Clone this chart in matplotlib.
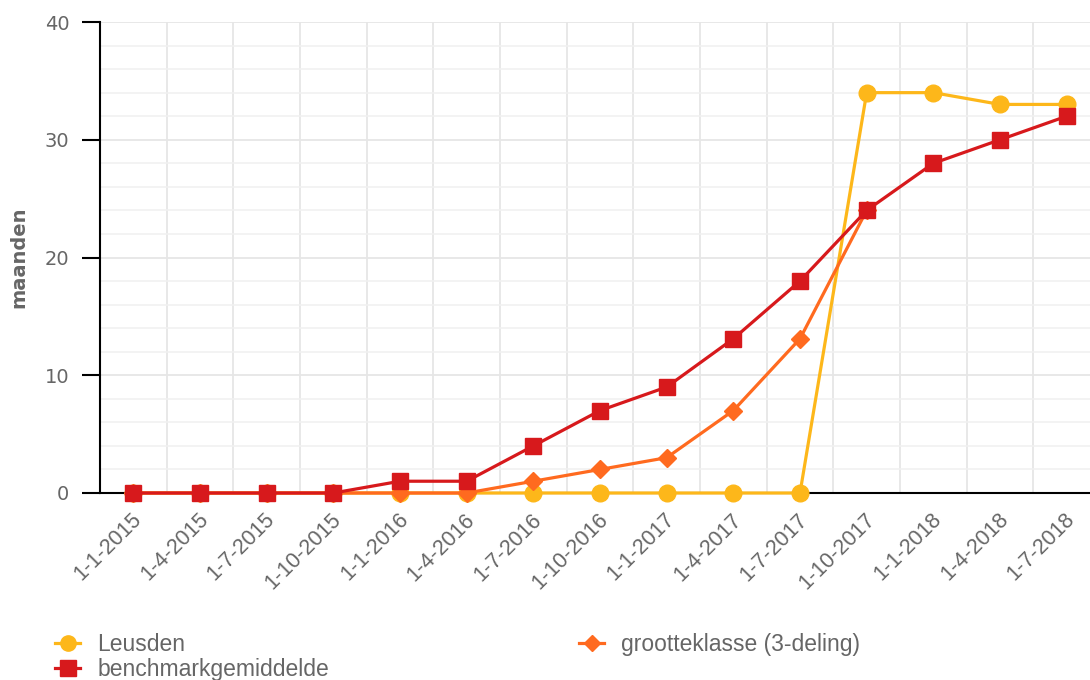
import numpy as np
import matplotlib
matplotlib.use("Agg")
import matplotlib.pyplot as plt
import matplotlib.transforms as mtransforms
from matplotlib.lines import Line2D

# ---- data ----
dates = ["1-1-2015", "1-4-2015", "1-7-2015", "1-10-2015", "1-1-2016", "1-4-2016",
         "1-7-2016", "1-10-2016", "1-1-2017", "1-4-2017", "1-7-2017", "1-10-2017",
         "1-1-2018", "1-4-2018", "1-7-2018"]
leusden = [0, 0, 0, 0, 0, 0, 0, 0, 0, 0, 0, 34, 34, 33, 33]
grootteklasse = [0, 0, 0, 0, 0, 0, 1, 2, 3, 7, 13.1, 24]
benchmark = [0, 0, 0, 0, 1, 1, 4, 7, 9, 13.1, 18, 24, 28, 30, 32]

C_LEUS = "#fdb71a"
C_GROOT = "#ff6a1f"
C_BENCH = "#d7191c"
GREY = "#666666"

fig = plt.figure(figsize=(10.9, 6.8), dpi=100)
ax = fig.add_axes([100 / 1090, 1 - 493 / 680, 1000 / 1090, 471 / 680])

x = np.arange(len(dates))
ax.plot(x[:len(leusden)], leusden, color=C_LEUS, lw=2.3, marker="o", ms=12, zorder=3,
        clip_on=False)
ax.plot(x[:len(grootteklasse)], grootteklasse, color=C_GROOT, lw=2.3, marker="D", ms=9,
        zorder=4, clip_on=False)
ax.plot(x[:len(benchmark)], benchmark, color=C_BENCH, lw=2.3, marker="s", ms=12, zorder=5,
        clip_on=False)

ax.set_xlim(-0.5, len(dates) - 0.5)
ax.set_ylim(0, 40)

# grid: vertical at category boundaries, horizontal major + minor
for b in np.arange(-0.5, len(dates), 1.0):
    ax.axvline(b, color="#e6e6e6", lw=1.3, zorder=0)
ax.set_yticks([0, 10, 20, 30, 40])
ax.set_yticks(np.arange(0, 41, 2), minor=True)
ax.grid(axis="y", which="major", color="#e6e6e6", lw=1.3, zorder=0)
ax.grid(axis="y", which="minor", color="#f0f0f0", lw=1.1, zorder=0)
ax.set_axisbelow(True)

ax.set_xticks(x)
ax.set_xticklabels(dates, rotation=45, ha="right", va="center", rotation_mode="anchor",
                   fontsize=15.5, color=GREY, family="Liberation Sans")
ax.tick_params(axis="x", length=0, pad=17)
shift = mtransforms.ScaledTranslation(5 / 100, 0, fig.dpi_scale_trans)
for lab in ax.get_xticklabels():
    lab.set_transform(lab.get_transform() + shift)
ax.tick_params(axis="y", which="major", length=13, width=1.5, color="black",
               labelsize=14, labelcolor=GREY, pad=9)
ax.tick_params(axis="y", which="minor", length=0)

for s in ["top", "right"]:
    ax.spines[s].set_visible(False)
ax.spines["left"].set_linewidth(1.5)
ax.spines["bottom"].set_linewidth(1.5)
ax.spines["bottom"].set_zorder(2)

ax.set_ylabel("maanden", fontsize=14, fontweight="bold", color=GREY, labelpad=12)

handles = [
    Line2D([], [], color=C_LEUS, lw=2.3, marker="o", ms=11),
    Line2D([], [], color=C_BENCH, lw=2.3, marker="s", ms=11),
    Line2D([], [], color=C_GROOT, lw=2.3, marker="D", ms=8),
]
labels = ["Leusden", "benchmarkgemiddelde", "grootteklasse (3-deling)"]
leg = fig.legend(handles, labels, ncol=2, loc="upper left",
                 bbox_to_anchor=(55 / 1090, 1 - 633 / 680), frameon=False,
                 prop={"family": "Liberation Sans", "size": 16.5}, labelcolor=GREY,
                 handlelength=1.1, handletextpad=0.75, columnspacing=10.9,
                 labelspacing=0.1, borderpad=0, borderaxespad=0)

fig.savefig("out.png", dpi=100)
